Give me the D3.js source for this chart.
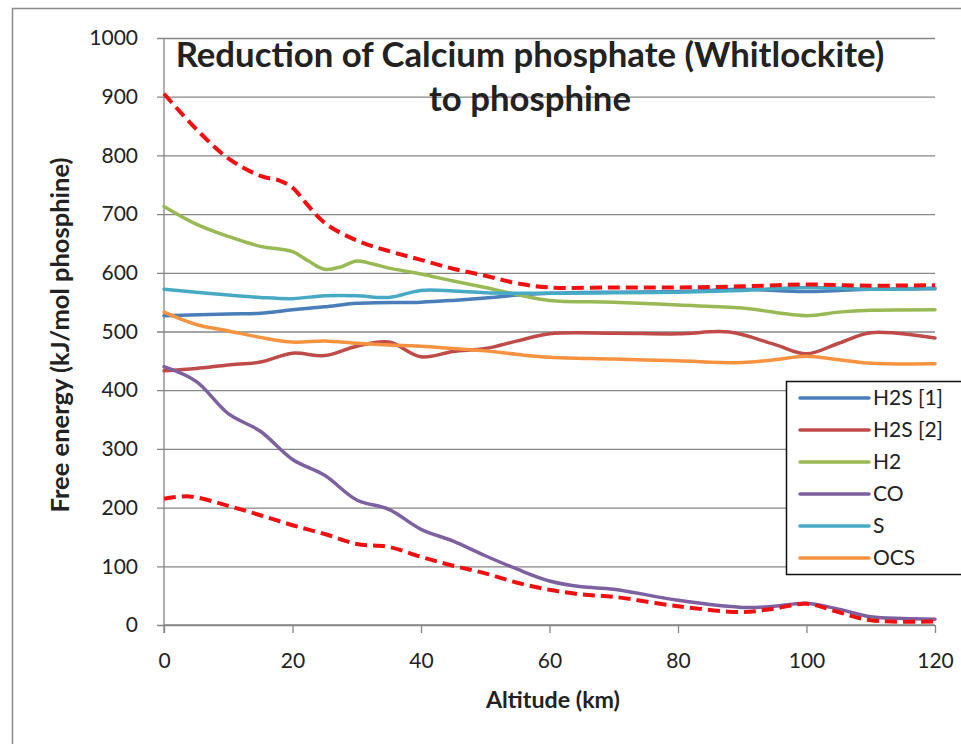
<!DOCTYPE html>
<html>
<head>
<meta charset="utf-8">
<script src="https://cdn.jsdelivr.net/npm/d3@7"></script>
<style>
  html, body { margin: 0; padding: 0; background: #fff; }
  svg { display: block; }
  text { font-family: Lato, "Open Sans", "Liberation Sans", sans-serif; fill: #222; }
</style>
</head>
<body>
<svg id="chart" width="961" height="744"></svg>
<script>
// Altitude (km) / free energy (kJ per mol phosphine) readings for each reductant
const h2s1 = [[0,527],[10,530],[15,531],[20,537],[25,542],[30,548],[40,550],[45,553],[50,557],[55,562],[60,565],[70,567],[80,568],[90,572],[95,570],[100,568],[105,570],[110,572],[120,573]];
const h2s2 = [[0,433],[5,437],[10,443],[15,448],[20,463],[25,459],[30,475],[35,482],[40,457],[45,466],[50,471],[55,484],[60,496],[70,497],[80,496],[88,499],[95,478],[100,462],[105,480],[110,498],[120,489]];
const h2 = [[0,713],[5,683],[10,662],[15,645],[20,636],[22.5,620],[25,606],[27.5,610],[30,620],[32.5,615],[35,608],[40,598],[45,586],[50,575],[55,563],[60,553],[70,550],[80,545],[90,540],[100,527],[105,533],[110,536],[120,537]];
const co = [[0,440],[5,415],[10,360],[15,330],[20,282],[25,255],[30,213],[35,197],[40,163],[45,143],[50,118],[55,95],[60,75],[65,65],[70,61],[80,42],[90,30],[95,32],[100,37],[105,27],[110,14],[115,11],[120,10]];
const sulfur = [[0,572],[5,567],[10,562],[15,558],[20,556],[25,561],[30,561],[35,558],[40,570],[45,569],[50,566],[60,565],[70,566],[80,567],[90,570],[100,575],[110,572],[120,574]];
const ocs = [[0,533],[5,512],[10,501],[15,490],[20,482],[25,484],[30,480],[35,477],[40,475],[45,471],[50,467],[55,461],[60,456],[70,453],[80,450],[90,447],[95,452],[100,458],[105,452],[110,446],[120,445]];
// Upper and lower envelope (dashed red)
const envelopeUpper = [[0,905],[5,845],[10,795],[15,765],[18,757],[20,745],[22,720],[25,685],[30,655],[35,637],[40,622],[45,607],[50,595],[55,582],[60,575],[70,575],[80,575],[90,577],[100,580],[110,578],[120,579]];
const envelopeLower = [[0,215],[4,219],[10,203],[15,187],[20,170],[25,155],[30,138],[35,133],[40,116],[45,101],[50,88],[55,72],[60,60],[65,52],[70,48],[80,32],[90,22],[95,28],[100,36],[105,22],[110,8],[120,6]];

const seriesNames = ["H2S [1]", "H2S [2]", "H2", "CO", "S", "OCS"];
const seriesData = [h2s1, h2s2, h2, co, sulfur, ocs];
const seriesColors = ["#4a7ebb", "#be4b48", "#98b954", "#7d60a0", "#46aac5", "#f69240"];
const xTicks = [0, 20, 40, 60, 80, 100, 120];
const yTicks = [0, 100, 200, 300, 400, 500, 600, 700, 800, 900, 1000];
const titleLines = ["Reduction of Calcium phosphate (Whitlockite)", "to phosphine"];
const xTitle = "Altitude (km)";
const yTitle = "Free energy (kJ/mol phosphine)";

const svg = d3.select("#chart");
const W = 961, H = 744;

// Outer chart frame
svg.append("rect").attr("x", 12.5).attr("y", 8.5).attr("width", W).attr("height", H)
  .attr("fill", "#fff").attr("stroke", "#8c8c8c").attr("stroke-width", 1.5);

const plot = { left: 164, right: 935, top: 38, bottom: 625 };
const x = d3.scaleLinear().domain([0, 120]).range([plot.left, plot.right]);
const y = d3.scaleLinear().domain([0, 1000]).range([plot.bottom, plot.top]);

// Horizontal gridlines with outside tick marks
const yAxis = d3.axisLeft(y).tickValues(yTicks).tickFormat(d3.format("d"))
  .tickSize(plot.right - plot.left + 7);
const gy = svg.append("g").attr("transform", `translate(${plot.right},0)`).call(yAxis);
gy.select(".domain").remove();
gy.selectAll(".tick line").attr("stroke", "#868686").attr("stroke-width", 1.3);
gy.selectAll(".tick text").attr("font-size", 21).attr("fill", "#222")
  .attr("x", -(plot.right - plot.left) - 26);

// Vertical axis line
svg.append("line").attr("x1", plot.left).attr("x2", plot.left)
  .attr("y1", plot.top).attr("y2", plot.bottom + 8)
  .attr("stroke", "#868686").attr("stroke-width", 1.3);

// Bottom axis
const xAxis = d3.axisBottom(x).tickValues(xTicks).tickFormat(d3.format("d")).tickSize(8).tickPadding(20);
const gx = svg.append("g").attr("transform", `translate(0,${plot.bottom})`).call(xAxis);
gx.select(".domain").attr("stroke", "#868686").attr("stroke-width", 1.3).attr("d", `M${plot.left},0H${plot.right}`);
gx.selectAll(".tick line").attr("stroke", "#868686").attr("stroke-width", 1.3);
gx.selectAll(".tick text").attr("font-size", 21).attr("fill", "#222");

const line = d3.line().x(d => x(d[0])).y(d => y(d[1])).curve(d3.curveCatmullRom.alpha(0.5));

// Solid reductant curves
seriesData.forEach((data, i) => {
  svg.append("path").datum(data).attr("d", line)
    .attr("fill", "none").attr("stroke", seriesColors[i])
    .attr("stroke-width", 3.5).attr("stroke-linejoin", "round").attr("stroke-linecap", "round");
});

// Dashed envelope curves
[envelopeUpper, envelopeLower].forEach(data => {
  svg.append("path").datum(data).attr("d", line)
    .attr("fill", "none").attr("stroke", "#f01010")
    .attr("stroke-width", 4).attr("stroke-dasharray", "12,6");
});

// Size a text element so that it spans a given width
function fitText(sel, width) {
  const len = sel.node().getComputedTextLength();
  const fs = parseFloat(sel.attr("font-size"));
  sel.attr("font-size", fs * width / len);
}

// Title
const t1 = svg.append("text").attr("x", 530).attr("y", 67).attr("text-anchor", "middle")
  .attr("font-weight", "bold").attr("font-size", 28).text(titleLines[0]);
fitText(t1, 709);
svg.append("text").attr("x", 530).attr("y", 111).attr("text-anchor", "middle")
  .attr("font-weight", "bold").attr("font-size", t1.attr("font-size")).text(titleLines[1]);

// Axis titles
const xt = svg.append("text").attr("x", 553).attr("y", 708).attr("text-anchor", "middle")
  .attr("font-weight", "bold").attr("font-size", 19).text(xTitle);
fitText(xt, 134);
const yt = svg.append("text").attr("transform", "translate(69,335) rotate(-90)")
  .attr("text-anchor", "middle").attr("font-weight", "bold").attr("font-size", 19).text(yTitle);
fitText(yt, 355);

// Legend
const legend = svg.append("g");
legend.append("rect").attr("x", 786.5).attr("y", 381.5).attr("width", 200).attr("height", 193)
  .attr("fill", "#fff").attr("stroke", "#111").attr("stroke-width", 1.5);
const rowY = d3.scalePoint().domain(seriesNames).range([398, 558]);
seriesNames.forEach((name, i) => {
  const yy = rowY(name);
  legend.append("line").attr("x1", 800).attr("x2", 869).attr("y1", yy).attr("y2", yy)
    .attr("stroke", seriesColors[i]).attr("stroke-width", 3.5).attr("stroke-linecap", "round");
  legend.append("text").attr("x", 873).attr("y", yy).attr("dy", "0.35em")
    .attr("font-size", 21).text(name);
});
</script>
</body>
</html>
